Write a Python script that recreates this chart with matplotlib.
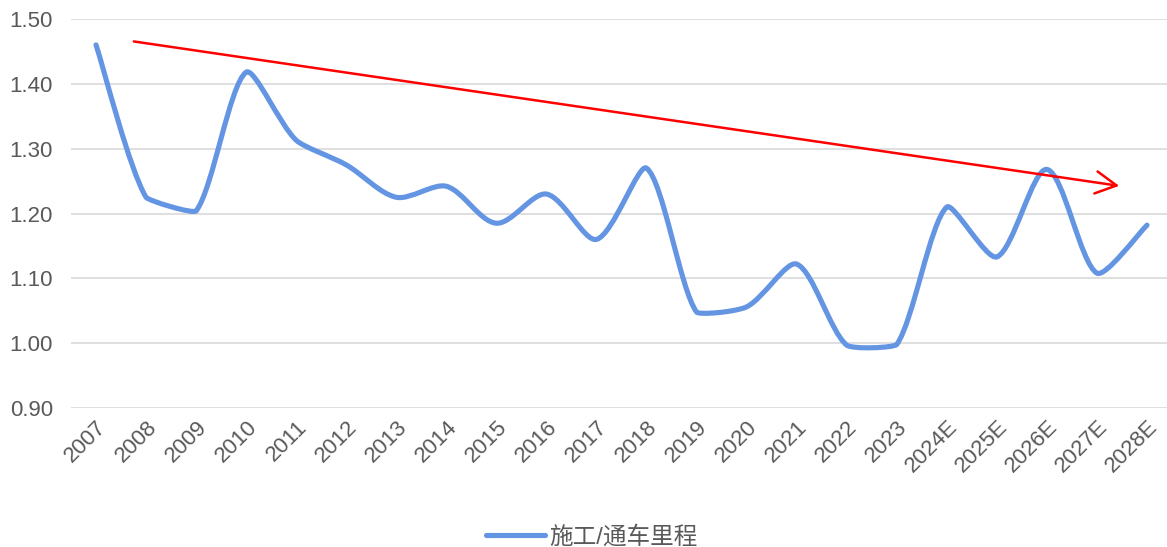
import matplotlib
matplotlib.use("Agg")
import matplotlib.pyplot as plt
from matplotlib.path import Path
from matplotlib.patches import PathPatch, FancyArrowPatch
from matplotlib.lines import Line2D
import numpy as np

plt.rcParams['font.family'] = ['Liberation Sans', 'Noto Sans CJK SC', 'DejaVu Sans']

years = ["2007", "2008", "2009", "2010", "2011", "2012", "2013", "2014", "2015",
         "2016", "2017", "2018", "2019", "2020", "2021", "2022", "2023",
         "2024E", "2025E", "2026E", "2027E", "2028E"]
ratio = [1.46, 1.225, 1.204, 1.418, 1.313, 1.275, 1.225, 1.242, 1.185,
         1.230, 1.160, 1.270, 1.048, 1.056, 1.122, 0.997, 0.998,
         1.210, 1.133, 1.268, 1.108, 1.182]
series_name = "施工/通车里程"

# trend arrow: (category index, value) at start and end
trend_start = (0.70, 1.466)
trend_end = (20.5, 1.242)

line_color = "#6495E3"
text_color = "#595959"

# screen scale used for smoothing (px per category, px per unit)
SX, SY = 50.1, 648.0


def smooth_path(xs, ys):
    # cubic Bezier through every point; the handle on the shorter side of a
    # point is shrunk so flat stretches next to steep ones don't overshoot
    pts = np.column_stack([np.asarray(xs) * SX, np.asarray(ys) * SY])
    n = len(pts)
    seg = np.linalg.norm(np.diff(pts, axis=0), axis=1)

    def handles(i):
        p0 = pts[max(i - 1, 0)]
        p2 = pts[min(i + 1, n - 1)]
        v = p2 - p0
        l = np.linalg.norm(v)
        t = v / l
        d_in = seg[i - 1] if i > 0 else seg[i]
        d_out = seg[i] if i < n - 1 else seg[i - 1]
        h_in = min(l / 6.0, d_in / 3.0) * min(1.0, d_in / d_out) ** 1.3
        h_out = min(l / 6.0, d_out / 3.0) * min(1.0, d_out / d_in) ** 1.3
        return t, h_in, h_out

    verts = [pts[0]]
    codes = [Path.MOVETO]
    for i in range(n - 1):
        t1, _, o1 = handles(i)
        t2, i2, _ = handles(i + 1)
        verts += [pts[i] + t1 * o1, pts[i + 1] - t2 * i2, pts[i + 1]]
        codes += [Path.CURVE4] * 3
    verts = np.array(verts) / [SX, SY]
    return Path(verts, codes)


fig = plt.figure(figsize=(11.67, 5.47), dpi=100)
ax = fig.add_axes([71 / 1167, 1 - 408 / 547, 1 - 71 / 1167, (408 - 19) / 547])

x = np.arange(len(years))
patch = PathPatch(smooth_path(x, ratio), facecolor="none", edgecolor=line_color,
                  lw=3.7, capstyle="round", joinstyle="round", zorder=3)
ax.add_patch(patch)

arrow = FancyArrowPatch(trend_start, trend_end,
                        arrowstyle="->,head_length=0.75,head_width=0.4",
                        mutation_scale=20, color="#FF0000", lw=1.8, zorder=4)
ax.add_patch(arrow)

ax.set_xlim(-0.5, 21.4)
ax.set_ylim(0.90, 1.50)
ax.set_yticks(np.arange(0.9, 1.501, 0.1))
ax.set_yticklabels([f"{v:.2f}" for v in np.arange(0.9, 1.501, 0.1)])
ax.set_xticks(x)
ax.set_xticklabels(years, rotation=45, ha="right", rotation_mode="anchor")

ax.grid(axis="y", color="#D9D9D9", lw=1.2)
ax.set_axisbelow(True)
for s in ax.spines.values():
    s.set_visible(False)
ax.tick_params(axis="both", length=0, labelsize=16, colors=text_color)
ax.tick_params(axis="y", pad=13)
ax.tick_params(axis="x", pad=6)

handle = Line2D([], [], color=line_color, lw=3.7, solid_capstyle="round")
fig.legend([handle], [series_name], loc="center", bbox_to_anchor=(0.507, 0.018),
           frameon=False, fontsize=17, labelcolor=text_color,
           handlelength=2.5, handletextpad=0.2)

fig.savefig("out.png", dpi=100)
